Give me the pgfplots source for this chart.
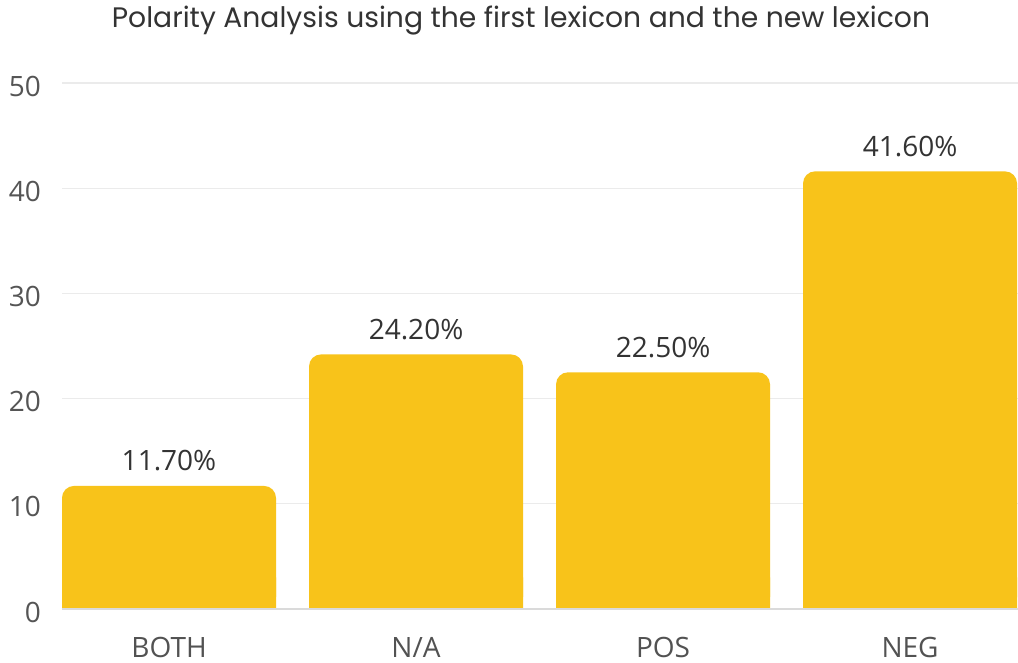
\documentclass[border=0pt]{standalone}
\usepackage{pgfplots}
\pgfplotsset{compat=1.18}
\usepackage{fontspec}
\setmainfont{Open Sans}
\newfontfamily\titlefont{Poppins}

\definecolor{barcol}{HTML}{F8C31A}
\definecolor{gridcol}{HTML}{EBEBEB}
\definecolor{basecol}{HTML}{DADADA}
\definecolor{ticktext}{HTML}{555555}
\definecolor{labeltext}{HTML}{333333}

\begin{document}
\begin{tikzpicture}
\useasboundingbox (-31pt,-27pt) rectangle (478pt,304.5pt);
\begin{axis}[
  scale only axis,
  width=478pt, height=263pt,
  at={(0,0)}, anchor=south west,
  ymin=0, ymax=50,
  ytick={0,10,20,30,40,50},
  xmin=-0.4332, xmax=3.437,
  xtick=data,
  xticklabels={BOTH, N/A, POS, NEG},
  axis line style={draw=none},
  tick style={draw=none},
  ymajorgrids,
  grid style={gridcol, line width=0.6pt},
  /pgf/number format/assume math mode=true,
  xticklabel style={font=\fontsize{14}{16}\selectfont, text=labeltext!85!white, anchor=base, yshift=-19.8pt},
  yticklabel style={font=\fontsize{14}{16}\selectfont, text=ticktext, anchor=east, xshift=-7pt, yshift=-1.5pt},
  ybar, bar width=107pt,
  clip=false,
]
% square bottoms under the rounded bars
\addplot[fill=barcol, draw=none, bar shift=0pt, forget plot]
  coordinates {(0,3) (1,3) (2,3) (3,3)};
\addplot[fill=barcol, draw=none, bar shift=0pt, rounded corners=6pt,
  nodes near coords={\pgfmathprintnumber[fixed, fixed zerofill, precision=2]{\pgfplotspointmeta}\%},
  every node near coord/.append style={font=\fontsize{14}{16}\selectfont, text=labeltext, anchor=base, yshift=7.5pt, rounded corners=0pt},
]
  coordinates {(0,11.7) (1,24.2) (2,22.5) (3,41.6)};
\draw[basecol, line width=0.8pt] (rel axis cs:0,0) -- (rel axis cs:1,0);
\end{axis}
\node[anchor=base, font=\titlefont\fontsize{14.1}{16}\selectfont, text=labeltext] at (229.5pt,290.5pt)
  {Polarity Analysis using the first lexicon and the new lexicon};
\end{tikzpicture}
\end{document}
